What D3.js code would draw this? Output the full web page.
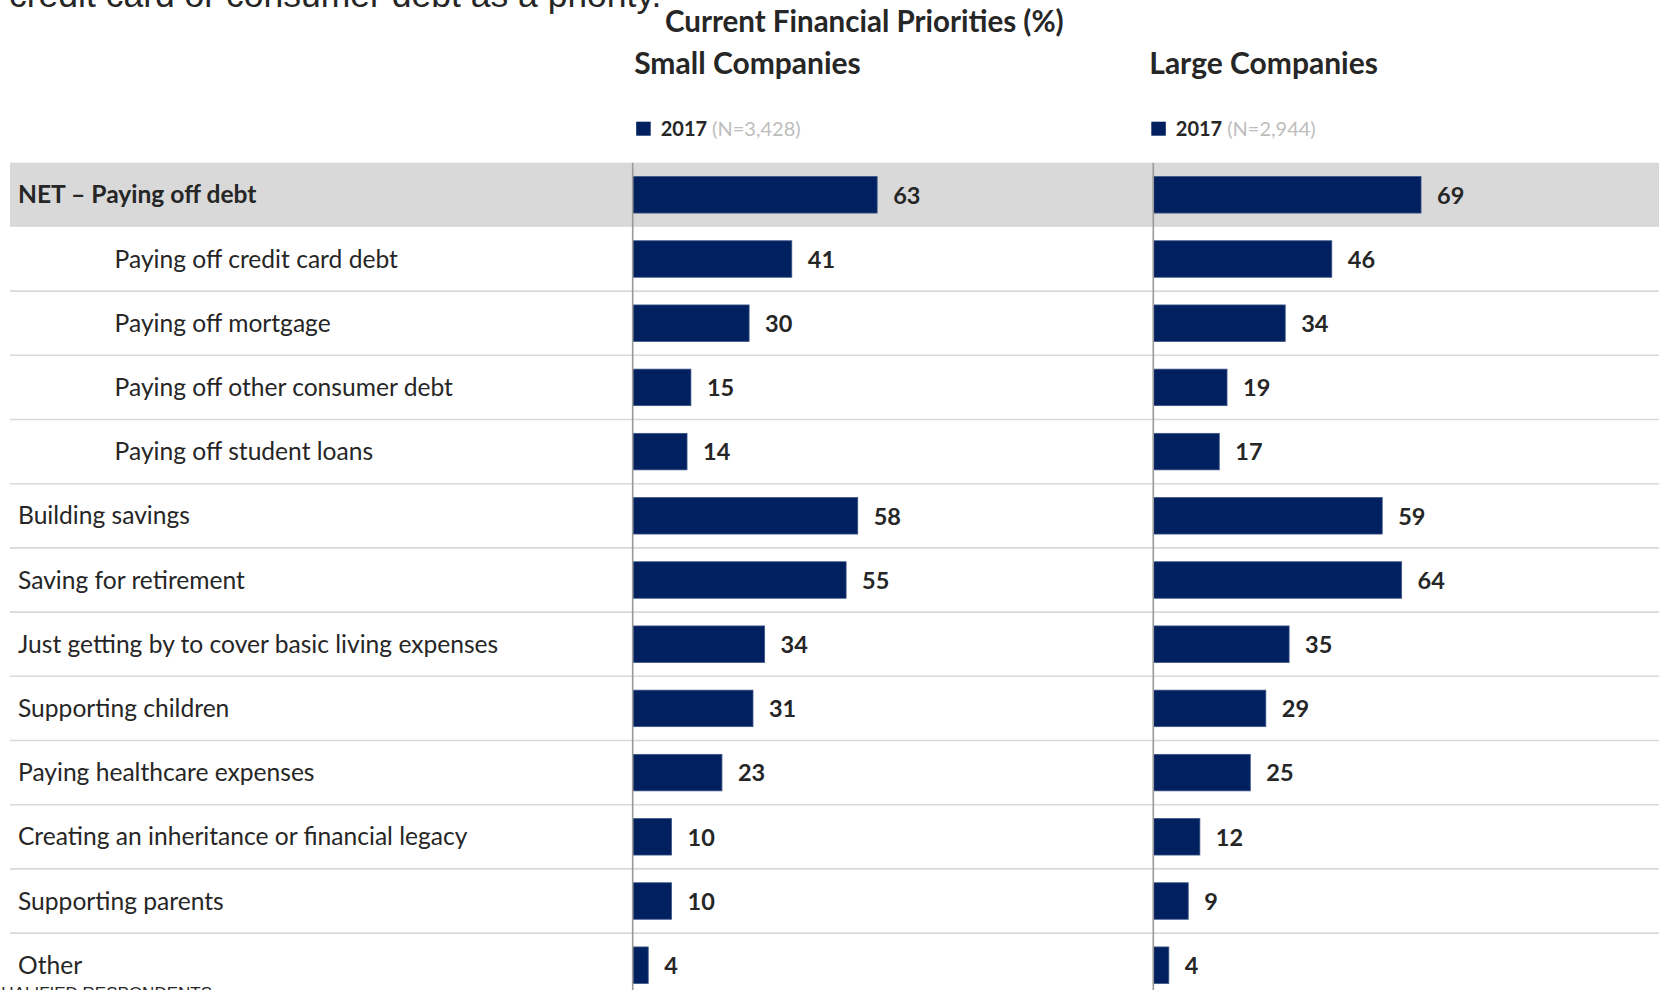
<!DOCTYPE html>
<html>
<head>
<meta charset="utf-8">
<script src="https://cdn.jsdelivr.net/npm/d3@7/dist/d3.min.js"></script>
<style>
  html, body { margin: 0; padding: 0; background: #fff; overflow: hidden; }
  svg { display: block; }
  text { font-family: Lato, "Noto Sans", sans-serif; fill: #262626; }
</style>
</head>
<body>
<svg id="chart" width="1659" height="990"></svg>
<script>
// Survey categories, top to bottom
const categories = [
  "NET – Paying off debt",
  "Paying off credit card debt",
  "Paying off mortgage",
  "Paying off other consumer debt",
  "Paying off student loans",
  "Building savings",
  "Saving for retirement",
  "Just getting by to cover basic living expenses",
  "Supporting children",
  "Paying healthcare expenses",
  "Creating an inheritance or financial legacy",
  "Supporting parents",
  "Other"
];
// 1 = sub-item of the NET row
const indentLevel = [0, 1, 1, 1, 1, 0, 0, 0, 0, 0, 0, 0, 0];

// Percent of respondents naming each priority (2017)
const smallValues = [63, 41, 30, 15, 14, 58, 55, 34, 31, 23, 10, 10, 4];
const largeValues = [69, 46, 34, 19, 17, 59, 64, 35, 29, 25, 12, 9, 4];

const panelTitles = ["Small Companies", "Large Companies"];
const legendYear = "2017";
const sampleSizes = ["(N=3,428)", "(N=2,944)"];

const chartTitle = "Current Financial Priorities (%)";
const introText = "credit card or consumer debt as a priority.";
const baseNote = "QUALIFIED RESPONDENTS";

const BAR = "#002060";
const svg = d3.select("#chart");
const W = 1659;

// Row layout
const rowTop = 162.7, rowStep = 64.2;
const y = d3.scaleBand()
  .domain(categories)
  .range([rowTop, rowTop + rowStep * categories.length])
  .padding(0);
const barH = 36.5;

// Bar length scale, shared by both panels
const x = d3.scaleLinear().domain([0, 100]).range([0, 388]);
const panelX = [632.7, 1153.3];
const headerShift = [1.5, -4];
const panelData = [smallValues, largeValues];

// Highlight band for the NET row
svg.append("rect")
  .attr("x", 10).attr("y", y(categories[0]))
  .attr("width", W - 10).attr("height", y.bandwidth())
  .attr("fill", "#d9d9d9");

// Row separators
svg.append("g").selectAll("line")
  .data(categories.slice(1, -1))
  .join("line")
  .attr("x1", 10).attr("x2", W)
  .attr("y1", d => y(d) + y.bandwidth())
  .attr("y2", d => y(d) + y.bandwidth())
  .attr("stroke", "#d9d9d9").attr("stroke-width", 1.6);

// Category labels
svg.append("g").selectAll("text")
  .data(categories)
  .join("text")
  .attr("x", (d, i) => indentLevel[i] ? 114.6 : 18)
  .attr("y", d => y(d) + y.bandwidth() / 2 + 8.6)
  .attr("font-size", 24.6)
  .attr("font-weight", (d, i) => i === 0 ? 700 : 400)
  .text(d => d);

// Panels
panelData.forEach((vals, p) => {
  const g = svg.append("g").attr("transform", `translate(${panelX[p]},0)`);

  g.selectAll("rect.bar")
    .data(vals)
    .join("rect")
    .attr("class", "bar")
    .attr("x", 0)
    .attr("y", (d, i) => y(categories[i]) + (y.bandwidth() - barH) / 2)
    .attr("width", d => x(d))
    .attr("height", barH)
    .attr("fill", BAR)
    .attr("stroke", "#3b5386").attr("stroke-width", 0.8);

  g.selectAll("text.val")
    .data(vals)
    .join("text")
    .attr("class", "val")
    .attr("x", d => x(d) + 16)
    .attr("y", (d, i) => y(categories[i]) + y.bandwidth() / 2 + 8.8)
    .attr("font-size", 23.5)
    .attr("font-weight", 700)
    .text(d => d);

  // Category axis line
  g.append("line")
    .attr("x1", 0).attr("x2", 0)
    .attr("y1", rowTop).attr("y2", 990)
    .attr("stroke", "#9a9a9a").attr("stroke-width", 1.6);

  const hx = panelX[p] + headerShift[p];

  // Panel heading
  svg.append("text")
    .attr("x", hx).attr("y", 74)
    .attr("font-size", 30).attr("font-weight", 700)
    .text(panelTitles[p]);

  // Legend
  svg.append("rect")
    .attr("x", hx + 2).attr("y", 121.7)
    .attr("width", 14.5).attr("height", 14)
    .attr("fill", BAR);
  const lt = svg.append("text")
    .attr("x", hx + 26.5).attr("y", 135.7)
    .attr("font-size", 20);
  lt.append("tspan").attr("font-weight", 700).text(legendYear);
  lt.append("tspan").attr("fill", "#bdbdbd").attr("dx", 5).text(sampleSizes[p]);
});

// Chart title
svg.append("text")
  .attr("x", 665).attr("y", 31.7)
  .attr("font-size", 29.5).attr("font-weight", 700)
  .text(chartTitle);

// Surrounding page text
svg.append("text")
  .attr("x", 9).attr("y", 6.5)
  .style("font-family", "'Liberation Sans', Arial, sans-serif")
  .attr("font-size", 35.5)
  .attr("fill", "#1a1a1a")
  .text(introText);

svg.append("text")
  .attr("x", 212).attr("y", 999)
  .attr("text-anchor", "end")
  .style("font-family", "'Liberation Sans', Arial, sans-serif")
  .attr("font-size", 17)
  .attr("fill", "#1a1a1a")
  .text(baseNote);
</script>
</body>
</html>
